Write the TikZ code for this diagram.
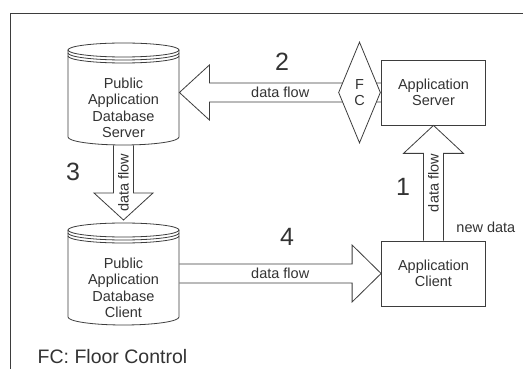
\documentclass[tikz,border=0pt]{standalone}
\usepackage{fontspec}
\setmainfont{Liberation Sans}
\usetikzlibrary{positioning, calc, shapes.geometric}
\definecolor{inkgray}{rgb}{0.24,0.24,0.24}
\definecolor{textgray}{rgb}{0.2,0.2,0.2}

\begin{document}
\begin{tikzpicture}[x=1pt, y=-1pt, line width=0.8pt,
    every node/.style={text=textgray, font=\fontsize{14.5}{16.5}\selectfont},
    box/.style={rectangle, draw=inkgray, minimum width=104pt, minimum height=65pt, inner sep=0pt, align=center},
    dbtext/.style={rectangle, minimum width=111pt, minimum height=74pt, inner sep=0pt, align=center},
    gate/.style={diamond, draw=inkgray, fill=white, aspect=0.4, minimum width=42pt, minimum height=101pt, inner sep=0pt, align=center},
    bignum/.style={font=\fontsize{25}{25}\selectfont},
    flow/.style={draw=inkgray}]
    \useasboundingbox (0,0) rectangle (523,369);
    \fill[white] (0,0) rectangle (523,369);
    \draw[inkgray] (10,369) |- (523,13);

    % the two databases
    \node[dbtext] (db_server) at (123.5, 108) {Public\\Application\\Database\\Server};
    \node[dbtext] (db_client) at ($(db_server)+(0, 180)$) {Public\\Application\\Database\\Client};

    \draw[flow] ($(db_server)+(-55.5,-58)$) -- ($(db_server)+(-55.5,29)$) arc[start angle=180, end angle=0, x radius=55.5, y radius=8] -- ($(db_server)+(55.5,-58)$);
    \draw[flow] ($(db_server)+(0,-58)$) ellipse[x radius=55.5, y radius=7];
    \draw[flow] ($(db_server)+(-55.5,-55)$) arc[start angle=180, end angle=0, x radius=55.5, y radius=7];
    \draw[flow] ($(db_server)+(-55.5,-52)$) arc[start angle=180, end angle=0, x radius=55.5, y radius=7];

    \draw[flow] ($(db_client)+(-55.5,-58)$) -- ($(db_client)+(-55.5,29)$) arc[start angle=180, end angle=0, x radius=55.5, y radius=8] -- ($(db_client)+(55.5,-58)$);
    \draw[flow] ($(db_client)+(0,-58)$) ellipse[x radius=55.5, y radius=7];
    \draw[flow] ($(db_client)+(-55.5,-55)$) arc[start angle=180, end angle=0, x radius=55.5, y radius=7];
    \draw[flow] ($(db_client)+(-55.5,-52)$) arc[start angle=180, end angle=0, x radius=55.5, y radius=7];

    % the application
    \node[box] (app_server) at ($(db_server)+(310, -15.5)$) {Application\\Server};
    \node[box] (app_client) at ($(app_server)+(0, 181)$) {Application\\Client};

    % 2: server to public database, through floor control
    \coordinate (tip_two) at (db_server.east |- app_server.west);
    \draw[flow] ($(app_server.west)+(0,-9.5)$) -- ($(tip_two)+(30,-9.5)$) -- ($(tip_two)+(30,-27.5)$) -- (tip_two)
        -- ($(tip_two)+(30,27.5)$) -- ($(tip_two)+(30,9.5)$) -- ($(app_server.west)+(0,9.5)$);
    \node (flow_two) at ($(tip_two)!0.5!(app_server.west)$) {data flow};
    \node[gate] (fc) at ($(app_server)+(-74, 0)$) {F\\C};

    % 3: public database server to public database client
    \coordinate (tip_three) at ($(db_client)+(0,-68)$);
    \draw[flow] ($(db_server.south)+(-10,0)$) -- ($(tip_three)+(-10,-27)$) -- ($(tip_three)+(-29.5,-27)$) -- (tip_three)
        -- ($(tip_three)+(29.5,-27)$) -- ($(tip_three)+(10,-27)$) -- ($(db_server.south)+(10,0)$);
    \node[rotate=90] (flow_three) at ($(db_server.south)!0.5!(tip_three)$) {data flow};

    % 4: public database client to client
    \coordinate (tail_four) at (db_client.east |- app_client.west);
    \draw[flow] ($(tail_four)+(0,-9.5)$) -- ($(app_client.west)+(-29,-9.5)$) -- ($(app_client.west)+(-29,-28.5)$) -- (app_client.west)
        -- ($(app_client.west)+(-29,28.5)$) -- ($(app_client.west)+(-29,9.5)$) -- ($(tail_four)+(0,9.5)$);
    \node (flow_four) at ($(tail_four)!0.5!(app_client.west)$) {data flow};

    % 1: client to server
    \draw[flow] ($(app_client.north)+(-10,0)$) -- ($(app_server.south)+(-10,28)$) -- ($(app_server.south)+(-30,28)$) -- (app_server.south)
        -- ($(app_server.south)+(30,28)$) -- ($(app_server.south)+(10,28)$) -- ($(app_client.north)+(10,0)$);
    \node[rotate=90] (flow_one) at ($(app_client.north)!0.5!(app_server.south)$) {data flow};
    \node (new_data) at ($(app_client.north east)+(0,-13)$) {new data};

    % step numbers
    \node[bignum] (num_one) at (403, 187) {1};
    \node[bignum] (num_two) at (282, 62) {2};
    \node[bignum] (num_three) at (73, 172) {3};
    \node[bignum] (num_four) at (287, 237) {4};

    \node[anchor=west, font=\fontsize{19.5}{20}\selectfont] (legend) at (34, 357) {FC: Floor Control};
\end{tikzpicture}
\end{document}
